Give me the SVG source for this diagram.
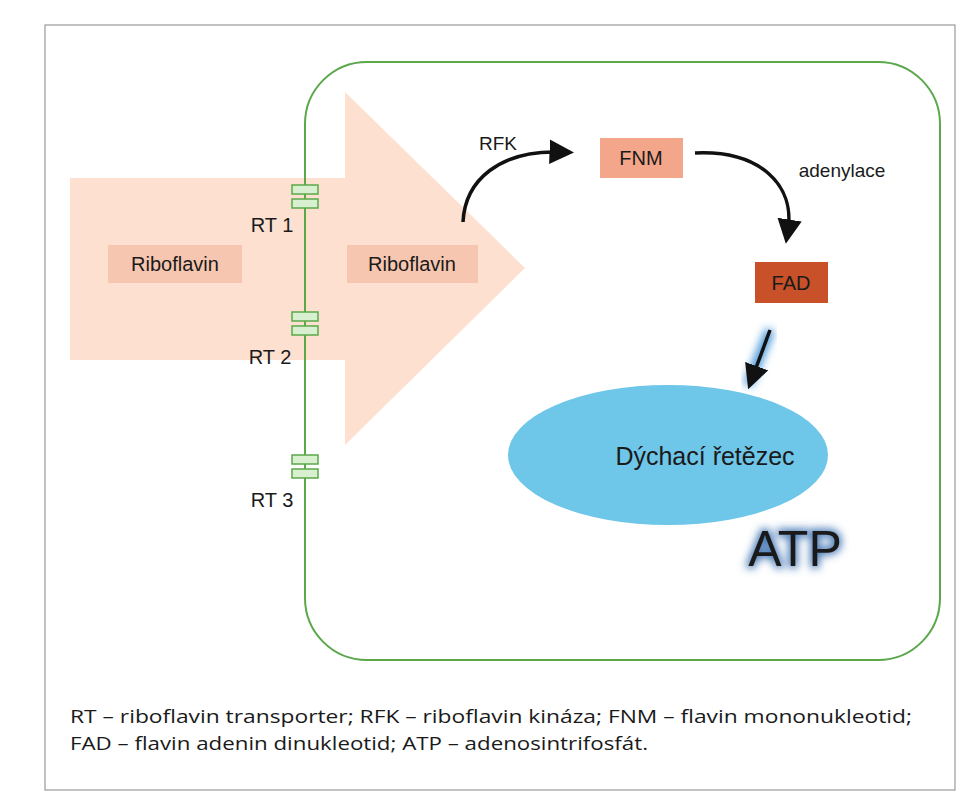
<svg xmlns="http://www.w3.org/2000/svg" width="972" height="800" viewBox="0 0 972 800">
<defs>
<style>
.t{font-family:"Liberation Sans",Arial,sans-serif;fill:#1a1a1a}
.cap{font-family:"Open Sans","Liberation Sans",sans-serif;fill:#1a1a1a;font-size:19px}
.ch{fill:#d8f0d0;stroke:#5aa84a;stroke-width:1.5}
.ar{fill:none;stroke:#111;stroke-width:3.5}
</style>
<marker id="ah" markerWidth="7" markerHeight="7" refX="3" refY="3.5" orient="auto"><path d="M0,0 L7,3.5 L0,7 Z" fill="#111"/></marker>
<filter id="glow" x="-30%" y="-30%" width="160%" height="160%"><feGaussianBlur stdDeviation="4"/></filter>
</defs>
<rect width="972" height="800" fill="#fff"/>
<rect x="45" y="25" width="910" height="765" fill="#fff" stroke="#999" stroke-width="1.2"/>
<g id="influx"><path d="M70,178 H345 V92 L525,268 L345,445 V360 H70 Z" fill="#fde0d0"/></g>
<g id="cell"><rect x="305" y="62" width="635" height="598" rx="62" fill="none" stroke="#5aa84a" stroke-width="2"/></g>
<g id="rt1"><rect class="ch" x="292" y="185" width="26" height="9"/><rect class="ch" x="292" y="199" width="26" height="9"/><text class="t" x="272" y="232" font-size="20" text-anchor="middle">RT 1</text></g>
<g id="rt2"><rect class="ch" x="292" y="312" width="26" height="9"/><rect class="ch" x="292" y="326" width="26" height="9"/><text class="t" x="270" y="364" font-size="20" text-anchor="middle">RT 2</text></g>
<g id="rt3"><rect class="ch" x="292" y="455" width="26" height="9"/><rect class="ch" x="292" y="469" width="26" height="9"/><text class="t" x="272" y="507" font-size="20" text-anchor="middle">RT 3</text></g>
<g id="rib1"><rect x="108" y="245" width="134" height="38" fill="#f6c6b0"/><text class="t" x="175" y="271" font-size="20" text-anchor="middle">Riboflavin</text></g>
<g id="rib2"><rect x="347" y="245" width="131" height="38" fill="#f6c6b0"/><text class="t" x="412" y="271" font-size="20" text-anchor="middle">Riboflavin</text></g>
<g id="fnm"><rect x="600" y="138" width="83" height="40" fill="#f4a68a"/><text class="t" x="641" y="165" font-size="20" text-anchor="middle">FNM</text></g>
<g id="fad"><rect x="755" y="262" width="73" height="41" fill="#c8512a"/><text class="t" x="791" y="290" font-size="20" text-anchor="middle">FAD</text></g>
<g id="resp"><ellipse cx="668" cy="455" rx="160" ry="70" fill="#6ec6e8"/><text class="t" x="705" y="465" font-size="25" text-anchor="middle">Dýchací řetězec</text></g>
<g id="atp"><text x="795" y="566" font-size="50" text-anchor="middle" font-family="Liberation Sans,Arial,sans-serif" fill="#3a6fb0" stroke="#3a6fb0" stroke-width="4" filter="url(#glow)">ATP</text><text class="t" x="795" y="566" font-size="50" text-anchor="middle" fill="#0a0a1a">ATP</text></g>
<g id="connectors">
<path class="ar" d="M463,222 C465,180 500,150 560,152" marker-end="url(#ah)"/>
<text class="t" x="498" y="150" font-size="19" text-anchor="middle">RFK</text>
<path class="ar" d="M695,153 C760,150 795,185 788,230" marker-end="url(#ah)"/>
<text class="t" x="842" y="177" font-size="19" text-anchor="middle">adenylace</text>
<path d="M770,330 L748,385" stroke="#3a8fd8" stroke-width="9" filter="url(#glow)" fill="none"/>
<path class="ar" d="M770,330 L753,376" marker-end="url(#ah)"/>
</g>
<g id="caption"><text class="cap" x="70" y="723" textLength="842" lengthAdjust="spacingAndGlyphs">RT – riboflavin transporter; RFK – riboflavin kináza; FNM – flavin mononukleotid;</text>
<text class="cap" x="70" y="750" textLength="578" lengthAdjust="spacingAndGlyphs">FAD – flavin adenin dinukleotid; ATP – adenosintrifosfát.</text></g>
</svg>
